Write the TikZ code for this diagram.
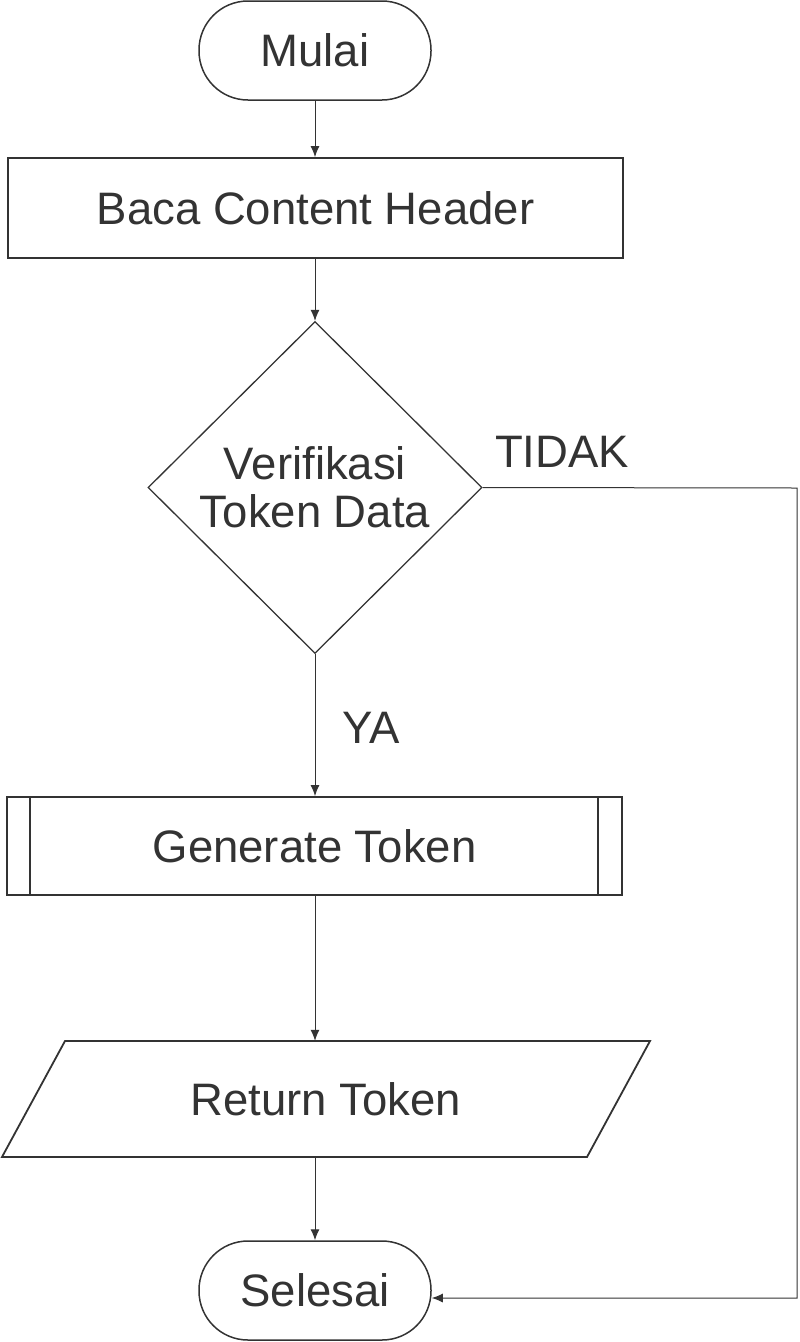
\documentclass[tikz,border=0pt]{standalone}
\usepackage{fontspec}
\setmainfont{Liberation Sans}
\usetikzlibrary{shapes.geometric,arrows.meta}
\definecolor{ink}{HTML}{333333}
\tikzset{
  every node/.style={font=\fontsize{45.5}{48}\selectfont, text=ink},
  term/.style={draw=ink, line width=1.5pt, rounded corners=49pt, minimum width=232pt, minimum height=99pt, inner sep=0pt},
  procbox/.style={draw=ink, line width=1.8pt, minimum width=615pt, minimum height=100pt, inner sep=0pt},
  decbox/.style={draw=ink, line width=1.3pt, diamond, minimum width=334pt, minimum height=332pt, inner sep=0pt, align=center},
  plain/.style={inner sep=0pt},
  conn/.style={draw=ink, line width=1pt, -{Latex[length=11pt,width=9pt]}},
  shapeline/.style={draw=ink, line width=1.8pt},
}
\begin{document}
\begin{tikzpicture}[x=1pt,y=-1pt]
\useasboundingbox (0,0) rectangle (800,1342);
\node[term] (mulai) at (315,50.5) {Mulai};
\node[procbox] (baca) at (315.5,208) {Baca Content Header};
\node[decbox] (ver) at (315,487.5) {Verifikasi\\Token Data};
\node[procbox, minimum height=98pt] (gen) at (314.5,846) {Generate Token};
\draw[shapeline] (30,797) -- (30,895);
\draw[shapeline] (598,797) -- (598,895);
\draw[shapeline] (65,1041) -- (650,1041) -- (587,1157) -- (2,1157) -- cycle;
\node[plain, minimum height=116pt] (ret) at (326,1099) {Return Token};
\node[term] (sel) at (315,1290.5) {Selesai};
\node[plain] (tidak) at (562,452) {TIDAK};
\node[plain] (ya) at (371,728) {YA};
\coordinate (c1) at (797,488);
\coordinate (c2) at (797,1298);
\draw[conn] (mulai.south) -- (mulai.south |- baca.north);
\draw[conn] (baca.south -| ver.north) -- (ver.north);
\draw[conn] (ver.south) -- (ver.south |- gen.north);
\draw[conn] (gen.south -| ver.south) -- (ver.south |- ret.north);
\draw[conn] (sel.north |- ret.south) -- (sel.north);
\draw[conn] (ver.east) -- (c1) -- (c2) -- (sel.east |- c2);
\end{tikzpicture}
\end{document}
